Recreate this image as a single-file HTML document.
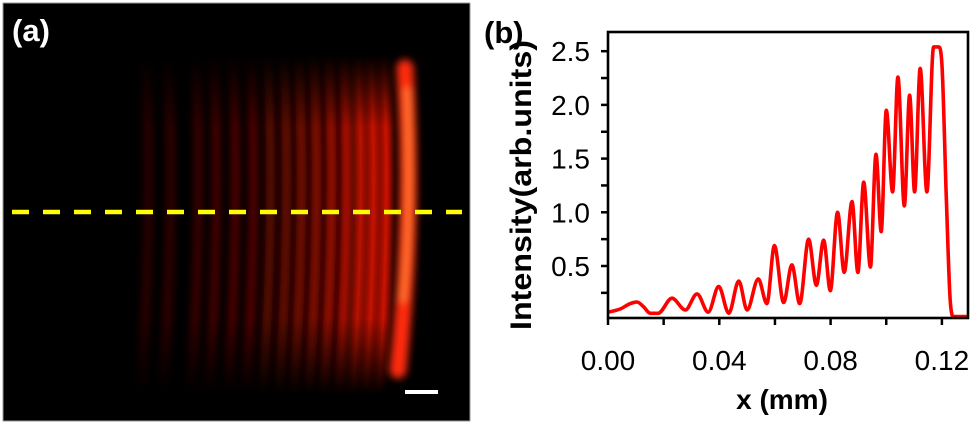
<!DOCTYPE html>
<html><head><meta charset="utf-8"><style>
html,body{margin:0;padding:0;background:#fff;}
svg{display:block;font-family:"Liberation Sans",Arial,sans-serif;}
</style></head><body>
<svg id="fig" width="973" height="424" viewBox="0 0 973 424" xmlns="http://www.w3.org/2000/svg">
<defs>
<filter id="blur" filterUnits="userSpaceOnUse" x="0" y="0" width="480" height="424"><feGaussianBlur stdDeviation="3.8"/></filter>
<filter id="blur2" filterUnits="userSpaceOnUse" x="0" y="0" width="480" height="424"><feGaussianBlur stdDeviation="4"/></filter>
<linearGradient id="vfade" x1="0" y1="0" x2="0" y2="1">
<stop offset="0.13" stop-color="#fff" stop-opacity="0"/>
<stop offset="0.3" stop-color="#fff" stop-opacity="1"/>
<stop offset="0.75" stop-color="#fff" stop-opacity="1"/>
<stop offset="0.93" stop-color="#fff" stop-opacity="0"/>
</linearGradient>
<mask id="fademask" maskUnits="userSpaceOnUse" x="0" y="0" width="480" height="424"><rect x="0" y="0" width="480" height="424" fill="url(#vfade)"/></mask>
<clipPath id="imgclip"><rect x="3" y="3" width="467" height="418"/></clipPath>
<clipPath id="plotclip"><rect x="608" y="32" width="360" height="286"/></clipPath>
</defs>
<g>
<rect x="3" y="3" width="467" height="418" fill="#000" stroke="#999" stroke-width="1"/>
<g clip-path="url(#imgclip)"><g mask="url(#fademask)"><g id="fringes" filter="url(#blur)"></g></g></g>
<g clip-path="url(#imgclip)"><g id="edge" filter="url(#blur2)"></g></g>
<line x1="12" y1="212" x2="462" y2="212" stroke="#ffff00" stroke-width="4.5" stroke-dasharray="17,14"/>
<rect x="405" y="390" width="33" height="4" fill="#fff"/>
<text x="12" y="41" font-size="31" font-weight="bold" fill="#fff">(a)</text>
</g>
<g>
<text x="484" y="43" font-size="31" font-weight="bold" fill="#000">(b)</text>
<g id="ticks"></g>
<path id="curve" clip-path="url(#plotclip)" fill="none" stroke="#ff0000" stroke-width="3.6" stroke-linejoin="round"/>
<rect x="608" y="32" width="360" height="286" fill="none" stroke="#000" stroke-width="2.6"/>
<text x="782" y="409" font-size="28" font-weight="bold" text-anchor="middle">x (mm)</text>
<text transform="translate(531,185) rotate(-90)" font-size="30" font-weight="bold" text-anchor="middle" textLength="290" lengthAdjust="spacingAndGlyphs">Intensity(arb.units)</text>
</g>
</svg>
<script>
const xs=[0,0.0044,0.008,0.0104,0.0128,0.0152,0.018,0.023,0.0278,0.032,0.036,0.0398,0.0434,0.047,0.050,0.054,0.0571,0.0598,0.0631,0.0661,0.0689,0.0721,0.0749,0.0775,0.0799,0.0825,0.0849,0.0877,0.0898,0.0919,0.0943,0.0963,0.0982,0.1,0.1023,0.1042,0.1065,0.1084,0.1102,0.1122,0.1146,0.117,0.1188,0.12,0.1216,0.123,0.1242,0.1296];
const ys=[0.07,0.10,0.15,0.165,0.12,0.06,0.06,0.20,0.09,0.24,0.07,0.31,0.06,0.36,0.09,0.38,0.15,0.69,0.16,0.51,0.15,0.75,0.32,0.74,0.27,1.0,0.44,1.10,0.44,1.28,0.49,1.54,0.82,1.95,1.19,2.26,1.06,2.09,1.19,2.34,1.19,2.54,2.54,2.38,1.11,0.18,0.03,0.03];
const xTicks=[0,0.04,0.08,0.12];
const xTickLabels=["0.00","0.04","0.08","0.12"];
const yTicks=[0.5,1.0,1.5,2.0,2.5];
const yTickLabels=["0.5","1.0","1.5","2.0","2.5"];
const fringeX=[150,172,200,218,237,255,272,288,303,318,333,348,362,375,388];
const fringeI=[0.12,0.16,0.22,0.28,0.32,0.36,0.42,0.48,0.55,0.62,0.7,0.78,0.85,0.9,0.95];
const X=v=>608+v/0.04*111.3;
const Y=v=>266-(v-0.5)/0.5*53.7;
const NS="http://www.w3.org/2000/svg";
const P=xs.map((x,i)=>[X(x),Y(ys[i])]);
const n=P.length, dk=[], m=[];
for(let i=0;i<n-1;i++) dk.push((P[i+1][1]-P[i][1])/(P[i+1][0]-P[i][0]));
m[0]=dk[0]; m[n-1]=dk[n-2];
for(let i=1;i<n-1;i++){ m[i]=(dk[i-1]*dk[i]<=0)?0:(dk[i-1]+dk[i])/2; }
for(let i=0;i<n-1;i++){ if(dk[i]===0){m[i]=0;m[i+1]=0;continue;} const a=m[i]/dk[i],b=m[i+1]/dk[i],s=a*a+b*b; if(s>9){const t=3/Math.sqrt(s);m[i]=t*a*dk[i];m[i+1]=t*b*dk[i];} }
let d="M"+P[0][0].toFixed(1)+","+P[0][1].toFixed(1);
for(let i=0;i<n-1;i++){const h=(P[i+1][0]-P[i][0])/3;
d+=" C"+(P[i][0]+h).toFixed(1)+","+(P[i][1]+m[i]*h).toFixed(1)+" "+(P[i+1][0]-h).toFixed(1)+","+(P[i+1][1]-m[i+1]*h).toFixed(1)+" "+P[i+1][0].toFixed(1)+","+P[i+1][1].toFixed(1);}
document.getElementById('curve').setAttribute('d',d);
const tg=document.getElementById('ticks');
function mk(tag,attrs,parent){const e=document.createElementNS(NS,tag);for(const k in attrs)e.setAttribute(k,attrs[k]);parent.appendChild(e);return e;}
for(let v=0;v<=0.1301;v+=0.02){const t=mk('line',{x1:X(v),x2:X(v),y1:318,y2:325,stroke:'#000','stroke-width':2.5},tg);

}
xTicks.forEach((v,i)=>{const t=mk('text',{x:X(v),y:370,'font-size':28,'text-anchor':'middle'},tg);t.textContent=xTickLabels[i];

});
for(let v=0.25;v<=2.66;v+=0.25){const t=mk('line',{x1:601,x2:608,y1:Y(v),y2:Y(v),stroke:'#000','stroke-width':2.5},tg);

}
yTicks.forEach((v,i)=>{const t=mk('text',{x:590,y:Y(v)+10,'font-size':28,'text-anchor':'end'},tg);t.textContent=yTickLabels[i];

});
const fg=document.getElementById('fringes');
fringeX.forEach((x,i)=>{const a=fringeI[i];const r=Math.round(90+165*a),g=Math.round(5+15*a);
const p=mk('path',{d:`M${x-5},40 Q${x+4},215 ${x-10},405`,stroke:`rgb(${r},${g},0)`,'stroke-opacity':Math.min(1,0.3+a*0.8),'stroke-width':9,fill:'none','stroke-linecap':'round'},fg);

});
const eg=document.getElementById('edge');
const e1=mk('path',{d:'M405,68 Q414,215 398,370',stroke:'#ff2a10','stroke-width':17,fill:'none','stroke-linecap':'round'},eg);


const e2=mk('path',{d:'M407,90 Q412,215 403,300',stroke:'#ff7a30','stroke-width':6,fill:'none','stroke-linecap':'round'},eg);


</script>
</body></html>
